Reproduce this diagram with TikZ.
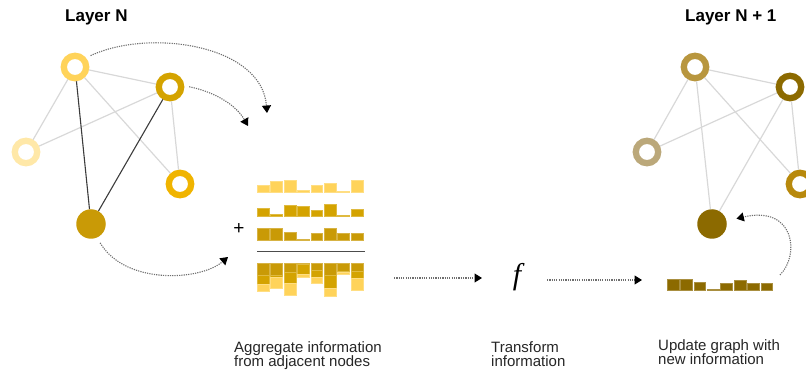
\documentclass[tikz,border=0pt]{standalone}
\usepackage{fontspec}
\setmainfont{Liberation Sans}
\newfontfamily\funcfont{Liberation Serif}
\usetikzlibrary{arrows.meta}

% layer N palette
\definecolor{ylight}{HTML}{FFD35A}
\definecolor{ypale}{HTML}{FFE8A8}
\definecolor{ygold}{HTML}{D4A300}
\definecolor{yorange}{HTML}{F0B400}
\definecolor{ydeep}{HTML}{C99A06}
% layer N+1 palette
\definecolor{bmuted}{HTML}{B8963E}
\definecolor{bdark}{HTML}{8C6A00}
\definecolor{btan}{HTML}{BBA87A}
\definecolor{bochre}{HTML}{B8890C}
% lines
\definecolor{edgegray}{HTML}{D8D8D8}
\definecolor{edgedark}{HTML}{3C3C3C}
\definecolor{dotgray}{HTML}{6E6E6E}

\tikzset{
  ring/.style={circle, draw=#1, line width=6.3pt, fill=white,
               minimum size=22.4pt, inner sep=0pt},
  hub/.style={circle, fill=#1, minimum size=29.5pt, inner sep=0pt},
  lightedge/.style={draw=edgegray, line width=1.2pt},
  darkedge/.style={draw=edgedark, line width=1.1pt},
  flow/.style={draw=dotgray, line width=1.1pt, dash pattern=on 1.2pt off 1.1pt,
               -{Triangle[length=7.5pt,width=9pt,black]}},
  title/.style={font=\fontsize{17}{20}\selectfont\bfseries, inner sep=0pt, anchor=base west},
  caption/.style={font=\fontsize{15}{14.7}\selectfont, align=left, inner sep=0pt,
                  anchor=north west, text=black!85}
}

% a row of eight bars standing on a baseline: x0, baseline, colour, heights
\newcommand\barrow[4]{%
  \foreach \h [count=\i from 0] in {#4} {
    \fill[#3, draw=#3!75!white, line width=0.5pt] ({#1+\i*13.4},#2) rectangle ++(11.8,-\h);
  }%
}

\begin{document}
\begin{tikzpicture}[x=1pt,y=-1pt]
\useasboundingbox (0,0) rectangle (806,374);
\clip (0,0) rectangle (806,374);

% ---------------- Layer N ----------------
\node[title] (tN) at (65,21.7) {Layer N};

\node[ring=ylight]  (A) at (75,67) {};
\node[ring=ygold]   (B) at (170,87) {};
\node[ring=ypale]   (C) at (26,152) {};
\node[ring=yorange] (D) at (180,184) {};
\node[hub=ydeep]    (E) at (91,224) {};

\draw[lightedge] (A) -- (B);
\draw[lightedge] (A) -- (C);
\draw[lightedge] (A) -- (D);
\draw[lightedge] (B) -- (C);
\draw[lightedge] (B) -- (D);
\draw[darkedge]  (A) -- (E);
\draw[darkedge]  (B) -- (E);

% messages travelling to the aggregation
\coordinate (inA) at (267,113);
\coordinate (inB) at (248,126);
\coordinate (inE) at (228,257);
\draw[flow, shorten <=5pt] (A.40) .. controls (150,28) and (262,45) .. (inA);
\draw[flow, shorten <=5pt] (B.5) .. controls (215,92) and (236,105) .. (inB);
\draw[flow, shorten <=6pt] (E.-66) .. controls (125,285) and (200,281) .. (inE);

% neighbour feature vectors
\barrow{257.3}{192.3}{ylight}{7.3,10.7,12,2.3,6.7,8.7,1.3,12}
\barrow{257.3}{216.7}{ygold}{8.7,2.3,11.3,10,6.3,12.7,1.7,7.3}
\barrow{257.3}{240.7}{ydeep}{12,12,8.7,1.3,7.3,12,7.7,7.7}
\node[font=\fontsize{19}{20}\selectfont, inner sep=0pt] (plus) at (239,229) {+};
\draw[draw=black!70, line width=1.3pt] (257.3,251.7) -- (365,251.7);

% summed vector, stacked downwards
\foreach \a/\b/\c [count=\i from 0] in
  {12/8.7/7.3, 12/2.3/10.7, 8.7/11.3/12, 1.3/10/2.3,
   7.3/6.3/6.7, 12/12.7/8.7, 7.7/1.7/1.3, 7.7/7.3/12} {
  \fill[ydeep, draw=ydeep!75!white, line width=0.5pt]
    ({257.3+\i*13.4},263.3) rectangle ++(11.8,\a);
  \fill[ygold, draw=ygold!75!white, line width=0.5pt]
    ({257.3+\i*13.4},263.3+\a) rectangle ++(11.8,\b);
  \fill[ylight, draw=ylight!75!white, line width=0.5pt]
    ({257.3+\i*13.4},263.3+\a+\b) rectangle ++(11.8,\c);
}

% ---------------- transform ----------------
\coordinate (aggOut) at (394,278);
\node[inner sep=0pt, font=\funcfont\itshape\fontsize{30}{32}\selectfont] (f) at (517,277) {f};
\coordinate (updIn) at (642,280);
\draw[flow] (aggOut) -- (482,278);
\draw[flow] (547,280) -- (updIn);

% ---------------- Layer N + 1 ----------------
\node[title] (tN1) at (685,21.7) {Layer N + 1};

\node[ring=bmuted] (A2) at (695,67) {};
\node[ring=bdark]  (B2) at (790,87) {};
\node[ring=btan]   (C2) at (647,152) {};
\node[ring=bochre] (D2) at (800,184) {};
\node[hub=bdark]   (E2) at (712,224) {};

\draw[lightedge] (A2) -- (B2);
\draw[lightedge] (A2) -- (C2);
\draw[lightedge] (A2) -- (D2);
\draw[lightedge] (A2) -- (E2);
\draw[lightedge] (B2) -- (C2);
\draw[lightedge] (B2) -- (D2);
\draw[lightedge] (B2) -- (E2);

% updated feature vector feeding back into the node
\barrow{667}{290}{bdark}{11,11,7.7,1,6.7,9.7,6.7,6.7}
\coordinate (vecEnd) at (780,275);
\draw[flow, shorten >=10pt] (vecEnd) .. controls (800,255) and (795,205) .. (E2.12);

% ---------------- captions ----------------
\node[caption] (cap1) at (234,341) {Aggregate information\\from adjacent nodes};
\node[caption] (cap2) at (491,341) {Transform\\information};
\node[caption] (cap3) at (658,339) {Update graph with\\new information};
\end{tikzpicture}
\end{document}
